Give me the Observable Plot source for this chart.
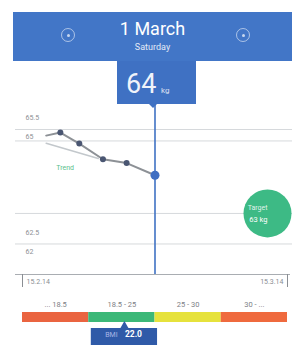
<!DOCTYPE html>
<html><head><meta charset="utf-8">
<script src="https://cdn.jsdelivr.net/npm/d3@7"></script>
<script src="https://cdn.jsdelivr.net/npm/@observablehq/plot@0.6"></script>
<style>
body{margin:0;background:#fff;font-family:Roboto,"Open Sans",sans-serif;}
#wrap{position:relative;width:292px;height:354px;overflow:hidden;background:#fff;}
#main,#bmi{position:absolute;left:0;}
#main{top:0}
#bmi{top:290px}
#header{position:absolute;left:13px;top:12px;width:279px;height:49px;background:#4276c7;color:#fff;text-align:center;}
#title{position:absolute;left:0;right:0;top:6px;font-size:18px;line-height:22px;}
#sub{position:absolute;left:0;right:0;top:29px;font-size:9px;line-height:12px;opacity:.85;}
.icon{position:absolute;top:16px;width:14px;height:14px;border:1px solid rgba(255,255,255,.55);border-radius:50%;box-sizing:border-box;}
.icon::after{content:"";position:absolute;left:4.5px;top:4.5px;width:3px;height:3px;border-radius:50%;background:rgba(255,255,255,.7);}
#valbox{position:absolute;left:117px;top:61px;width:79px;height:43px;background:#3f71c3;color:#fff;}
#val{position:absolute;left:9px;top:8px;font-size:27px;line-height:30px;opacity:.92;}
#unit{position:absolute;left:44px;top:25px;font-size:8px;opacity:.8;}
#tri{position:absolute;left:32px;top:43px;width:0;height:0;border-left:4px solid transparent;border-right:4px solid transparent;border-top:4px solid #3f71c3;}
</style></head>
<body>
<div id="wrap">
  <div id="main"></div>
  <div id="bmi"></div>
  <div id="header"><div class="icon" style="left:48px"></div><div id="title"></div><div id="sub"></div><div class="icon" style="left:223px"></div></div>
  <div id="valbox"><span id="val"></span><span id="unit"></span><div id="tri"></div></div>
</div>
<script>
// ---- data ----
const weightDates = ["2014-02-17T12:00Z","2014-02-19","2014-02-21","2014-02-23T12:00Z","2014-02-26","2014-03-01"];
const weightValues = [65.04, 65.12, 64.83, 64.42, 64.32, 64.0];
const weightHasDot = [false, true, true, true, true, true];
const trendDates = ["2014-02-17T12:00Z","2014-02-23"];
const trendValues = [64.84, 64.44];
const trendLabelDate = "2014-02-19T12:00Z";
const trendLabelValue = 64.2;
const trendLabel = "Trend";
const dateDomain = ["2014-02-15","2014-03-15"];
const gridValues = [65.2, 64.9, 63, 62.2];
const axisValue = 61.4;
const yLabelValues = [65.5, 65, 62.5, 62];
const yLabelTexts = ["65.5", "65", "62.5", "62"];
const unit = "kg";
const targetWeight = 63;
const targetLabel = "Target";
const bmiCategories = ["... 18.5", "18.5 - 25", "25 - 30", "30 - ..."];
const bmiLow = [15, 18.5, 25, 30];
const bmiHigh = [18.5, 25, 30, 35];
const bmiColors = ["#ea6440", "#3cb878", "#e6e23c", "#ef6a3e"];
const bmiValue = 22.0;

// ---- build ----
const parse = s => new Date(s);
const weights = weightDates.map((d, i) => ({date: parse(d), value: weightValues[i], dot: weightHasDot[i]}));
const current = weights[weights.length - 1];
const trend = trendDates.map((d, i) => ({date: parse(d), value: trendValues[i]}));

document.getElementById("title").textContent = d3.utcFormat("%-d %B")(current.date);
document.getElementById("sub").textContent = d3.utcFormat("%A")(current.date);
document.getElementById("val").textContent = d3.format("d")(current.value);
document.getElementById("unit").textContent = unit;

const fmt = d3.utcFormat("%-d.%-m.%y");
const ends = dateDomain.map(parse);

const main = Plot.plot({
  width: 292, height: 290,
  marginLeft: 22, marginRight: 5, marginTop: 104, marginBottom: 16,
  style: {fontFamily: "Roboto, sans-serif", background: "transparent"},
  x: {type: "utc", domain: ends, axis: null},
  y: {domain: [axisValue, gridValues[0]], range: [274, 129], axis: null},
  marks: [
    Plot.ruleY(gridValues, {y: d => d, stroke: "#d6d9dc", strokeWidth: 1, insetLeft: -7, insetRight: -5}),
    Plot.ruleY([axisValue], {y: d => d, stroke: "#a9adb2", strokeWidth: 1.2, insetLeft: -7, insetRight: -3}),
    Plot.axisX({ticks: ends, tickSize: 13, tickFormat: () => "", stroke: "#8a8e93"}),
    Plot.text([ends[0]], {x: d => d, text: d => fmt(d), frameAnchor: "bottom", dy: 9, dx: 4, textAnchor: "start", fill: "#8a8e93", fontSize: 7}),
    Plot.text([ends[1]], {x: d => d, text: d => fmt(d), frameAnchor: "bottom", dy: 9, dx: -4, textAnchor: "end", fill: "#8a8e93", fontSize: 7}),
    Plot.text(yLabelValues, {y: d => d, text: (d, i) => yLabelTexts[i], frameAnchor: "left", dx: 3, textAnchor: "start", fill: "#8d8f94", fontSize: 7}),
    Plot.dot([targetWeight], {y: d => d, frameAnchor: "right", dx: -20, r: 24, fill: "#3dba85"}),
    Plot.text([targetWeight], {y: d => d, text: () => targetLabel, frameAnchor: "right", dx: -20, dy: -6, fill: "#fff", fontSize: 7, fillOpacity: 0.85}),
    Plot.text([targetWeight], {y: d => d, text: d => `${d} ${unit}`, frameAnchor: "right", dx: -20, dy: 6, fill: "#fff", fontSize: 7.5}),
    Plot.ruleX([current], {x: "date", stroke: "#3f71c3", strokeWidth: 1.6}),
    Plot.line(trend, {x: "date", y: "value", stroke: "#c3c8cc", strokeWidth: 1.5}),
    Plot.text([{date: parse(trendLabelDate), value: trendLabelValue}], {x: "date", y: "value", text: () => trendLabel, fill: "#5cc08d", fontSize: 7}),
    Plot.line(weights, {x: "date", y: "value", stroke: "#8d9196", strokeWidth: 2}),
    Plot.dot(weights.filter(d => d.dot && d !== current), {x: "date", y: "value", r: 3, fill: "#4a5672"}),
    Plot.dot([current], {x: "date", y: "value", r: 4.5, fill: "#3f6ec2"})
  ]
});
document.getElementById("main").appendChild(main);

const segs = bmiCategories.map((c, i) => ({label: c, i, lo: bmiLow[i], hi: bmiHigh[i], color: bmiColors[i]}));
const seg = segs.find(s => bmiValue >= s.lo && bmiValue < s.hi);
const bmiPos = seg.i + (bmiValue - seg.lo) / (seg.hi - seg.lo);

const bmi = Plot.plot({
  width: 292, height: 64,
  marginLeft: 22, marginRight: 5, marginTop: 22, marginBottom: 32,
  style: {fontFamily: "Roboto, sans-serif", background: "transparent"},
  x: {domain: [0, bmiCategories.length], axis: null},
  y: {axis: null},
  marks: [
    Plot.rect(segs, {x1: "i", x2: d => d.i + 1, fill: "color"}),
    Plot.text(segs, {x: d => d.i + 0.5, text: "label", frameAnchor: "top", dy: -11, fill: "#7d8085", fontSize: 7.5}),
    Plot.rect([bmiPos], {x1: d => d - 0.5, x2: d => d + 0.5, fill: "#2f5aa8", insetTop: 16, insetBottom: -23}),
    Plot.dot([bmiPos], {x: d => d, frameAnchor: "bottom", dy: 4, r: 3.5, symbol: "triangle", fill: "#2f5aa8"}),
    Plot.text([bmiPos], {x: d => d, text: () => "BMI", frameAnchor: "bottom", dy: 14.5, dx: -13, fill: "#a9b6e6", fontSize: 7}),
    Plot.text([bmiValue], {x: () => bmiPos, text: d => d.toFixed(1), frameAnchor: "bottom", dy: 14.5, dx: 9, fill: "#fff", fontSize: 8.5, fontWeight: "bold"})
  ]
});
document.getElementById("bmi").appendChild(bmi);
</script>
</body></html>
